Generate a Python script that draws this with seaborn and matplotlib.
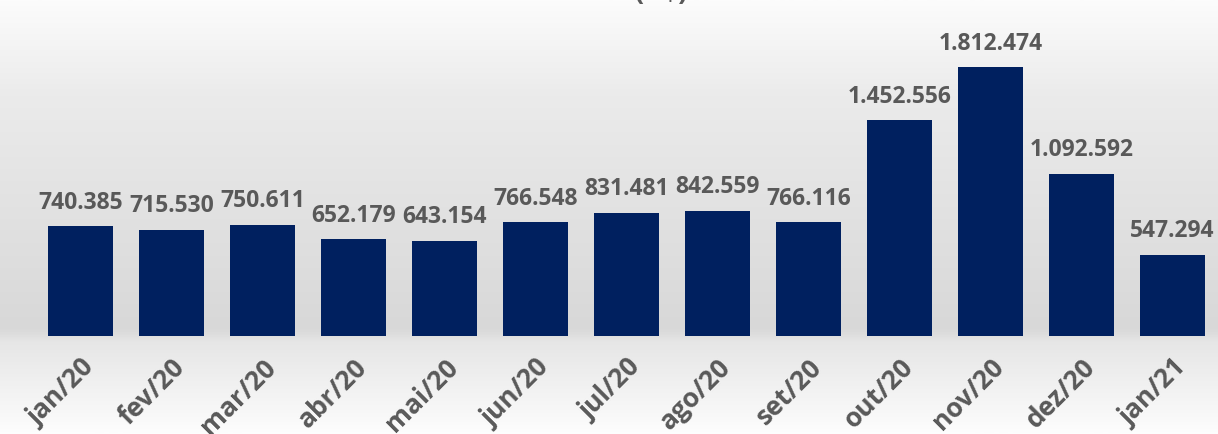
import numpy as np
import pandas as pd
import seaborn as sns
import matplotlib.pyplot as plt
from matplotlib.colors import LinearSegmentedColormap

# data
meses = ["jan/20", "fev/20", "mar/20", "abr/20", "mai/20", "jun/20", "jul/20",
         "ago/20", "set/20", "out/20", "nov/20", "dez/20", "jan/21"]
valores = [740385, 715530, 750611, 652179, 643154, 766548, 831481,
           842559, 766116, 1452556, 1812474, 1092592, 547294]

df = pd.DataFrame({"mes": meses, "valor": valores})


def fmt_br(v):
    return "{:,}".format(v).replace(",", ".")


sns.set_theme(style="white")
plt.rcParams["font.family"] = ["Open Sans", "DejaVu Sans"]

fig = plt.figure(figsize=(12.18, 4.35), dpi=100)

# gradient background
bg = fig.add_axes([0, 0, 1, 1], zorder=0)
cmap = LinearSegmentedColormap.from_list(
    "bg", [(0.0, "#fcfcfc"), (0.22, "#ebebeb"), (0.76, "#d8d8d8"), (0.79, "#e6e6e6"), (1.0, "#fdfdfd")])
grad = np.linspace(0, 1, 400).reshape(-1, 1)
bg.imshow(grad, aspect="auto", cmap=cmap, extent=[0, 1, 0, 1], origin="upper")
bg.axis("off")

ax = fig.add_axes([0, 0.2253, 1, 0.7747], zorder=1)
ax.set_facecolor("none")
sns.barplot(data=df, x="mes", y="valor", color="#00205F", saturation=1, width=0.714,
            linewidth=0, ax=ax)

ax.set_xlim(-0.885, 12.5)
ax.set_ylim(0, 2270800)

for i, v in enumerate(valores):
    ax.annotate(fmt_br(v), (i, v), xytext=(0, 9), textcoords="offset points",
                ha="center", va="bottom", fontsize=16.5, fontweight="bold", color="#595959")

ax.set_xlabel("")
ax.set_ylabel("")
ax.set_yticks([])
ax.tick_params(axis="x", length=0, pad=12)
plt.setp(ax.get_xticklabels(), rotation=45, ha="right", rotation_mode="anchor",
         fontsize=19, fontweight="bold", color="#595959")
sns.despine(ax=ax, left=True, bottom=True)

# title, cut off at the top edge as in the source image
fig.text(0.51, 1.018, "Valor (R$)", ha="center", va="center", fontsize=20,
         fontweight="bold", color="#595959")

plt.savefig("out.png", dpi=100)
plt.close()
